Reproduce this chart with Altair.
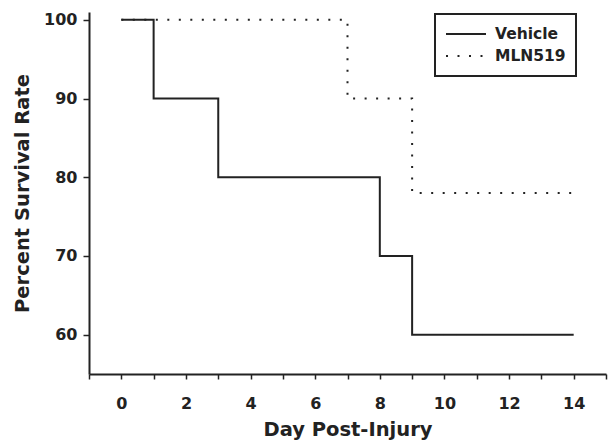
import altair as alt
import pandas as pd

# Data
vehicle_days = [0, 1, 3, 8, 9, 14]
vehicle_pct = [100, 90, 80, 70, 60, 60]
mln_days = [0, 7, 9, 14]
mln_pct = [100, 90, 78, 78]
groups = ["Vehicle", "MLN519"]
x_ticks = list(range(-1, 16))
y_ticks = [60, 70, 80, 90, 100]

df = pd.concat([
    pd.DataFrame({"day": vehicle_days, "pct": vehicle_pct, "group": groups[0]}),
    pd.DataFrame({"day": mln_days, "pct": mln_pct, "group": groups[1]}),
])

INK = "#222222"
FONT = "DejaVu Sans"

chart = alt.Chart(df).mark_line(interpolate="step-after", strokeWidth=2, color=INK, strokeCap="butt").encode(
    x=alt.X("day:Q",
            scale=alt.Scale(domain=[-1, 15], nice=False, zero=False),
            axis=alt.Axis(values=x_ticks, title="Day Post-Injury",
                          labelExpr="(datum.value >= 0 && datum.value % 2 == 0) ? datum.label : ''",
                          tickSize=5, labelPadding=16, titlePadding=9)),
    y=alt.Y("pct:Q",
            scale=alt.Scale(domain=[55, 101], nice=False, zero=False),
            axis=alt.Axis(values=y_ticks, title="Percent Survival Rate",
                          tickSize=6, labelPadding=6, titlePadding=11)),
    strokeDash=alt.StrokeDash("group:N",
                              scale=alt.Scale(domain=groups, range=[[1, 0], [2, 9.5]]),
                              legend=alt.Legend(title=None, orient="none", legendX=346, legendY=2,
                                                symbolType="stroke", symbolSize=1600,
                                                symbolStrokeWidth=2, symbolStrokeColor=INK,
                                                clipHeight=20, rowPadding=2, columnPadding=0,
                                                labelFont=FONT, labelFontSize=15.5, labelFontWeight="bold",
                                                labelColor=INK, labelOffset=8,
                                                padding=10, strokeColor=INK, fillColor="white")),
).properties(
    width=517, height=362,
    autosize=alt.AutoSizeParams(type="none"),
    padding={"left": 89, "top": 12, "right": 5, "bottom": 72},
).configure_view(stroke=None).configure_axis(
    grid=False, domainColor=INK, domainWidth=2, tickColor=INK, tickWidth=1.5,
    labelFont=FONT, labelFontSize=16, labelFontWeight="bold", labelColor=INK,
    titleFont=FONT, titleFontSize=19.5, titleFontWeight="bold", titleColor=INK,
).configure_legend(strokeWidth=2)

chart.save("out.html", embed_options={"renderer": "svg", "actions": False})
